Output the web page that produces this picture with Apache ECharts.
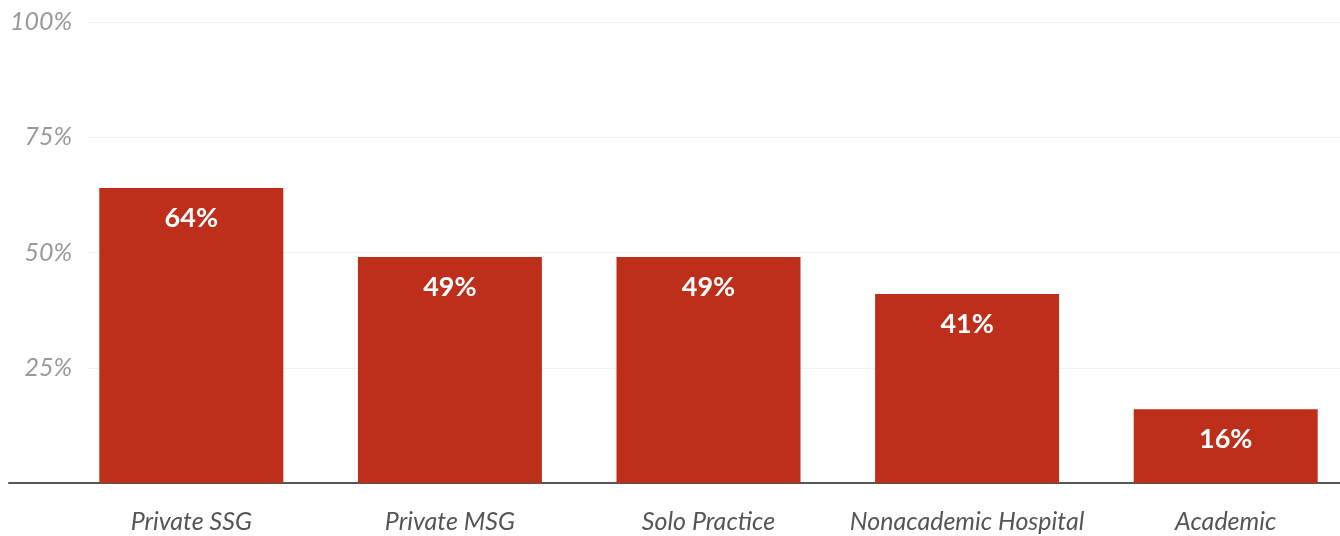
<!DOCTYPE html>
<html>
<head>
<meta charset="utf-8">
<script src="https://cdn.jsdelivr.net/npm/echarts@6/dist/echarts.min.js"></script>
<style>
html,body{margin:0;padding:0;background:#fff;}
#chart{width:1340px;height:536px;}
</style>
</head>
<body>
<div id="chart"></div>
<script>
const categories = ["Private SSG", "Private MSG", "Solo Practice", "Nonacademic Hospital", "Academic"];
const values = [64, 49, 49, 41, 16];
const yTicks = [0, 25, 50, 75, 100];

const chart = echarts.init(document.getElementById('chart'), null, {renderer: 'canvas'});
const TOP = 22, BOTTOM = 53;
const option = {
  animation: false,
  grid: [
    {left: 62, width: 1293, top: TOP, bottom: BOTTOM, outerBoundsMode: 'none', containLabel: false},
    {left: 88, right: 0, top: TOP, bottom: BOTTOM, outerBoundsMode: 'none', containLabel: false},
    {left: 9, right: 0, top: TOP, bottom: BOTTOM, outerBoundsMode: 'none', containLabel: false}
  ],
  xAxis: [
    {
      gridIndex: 0, type: 'category', data: categories,
      axisLine: {show: false}, axisTick: {show: false},
      axisLabel: {interval: 0, fontFamily: 'Lato', fontStyle: 'italic', fontSize: 25, color: '#555', margin: 26}
    },
    {gridIndex: 1, type: 'value', show: false, min: 0, max: 1},
    {
      gridIndex: 2, type: 'value', min: 0, max: 1,
      axisLine: {show: true, onZero: false, lineStyle: {color: '#555', width: 2}},
      axisTick: {show: false}, axisLabel: {show: false}, splitLine: {show: false}
    }
  ],
  yAxis: [
    {gridIndex: 0, type: 'value', min: 0, max: 100, show: false},
    {
      gridIndex: 1, type: 'value', min: 0, max: 100, interval: 25,
      axisLine: {show: false}, axisTick: {show: false},
      axisLabel: {
        fontFamily: 'Lato', fontStyle: 'italic', fontSize: 25, color: '#999', margin: 16,
        formatter: v => (v === 0 ? '' : v + '%')
      },
      splitLine: {show: true, lineStyle: {color: '#f2f2f2', width: 1}}
    },
    {gridIndex: 2, type: 'value', min: 0, max: 100, show: false}
  ],
  series: [{
    type: 'bar', xAxisIndex: 0, yAxisIndex: 0,
    data: values, barWidth: 184,
    itemStyle: {color: '#be2f1b'},
    label: {
      show: true, position: 'insideTop', distance: 17,
      formatter: p => p.value + '%',
      color: '#fff', fontFamily: 'Lato', fontWeight: 'bold', fontSize: 27
    }
  }]
};
chart.setOption(option);
</script>
</body>
</html>
